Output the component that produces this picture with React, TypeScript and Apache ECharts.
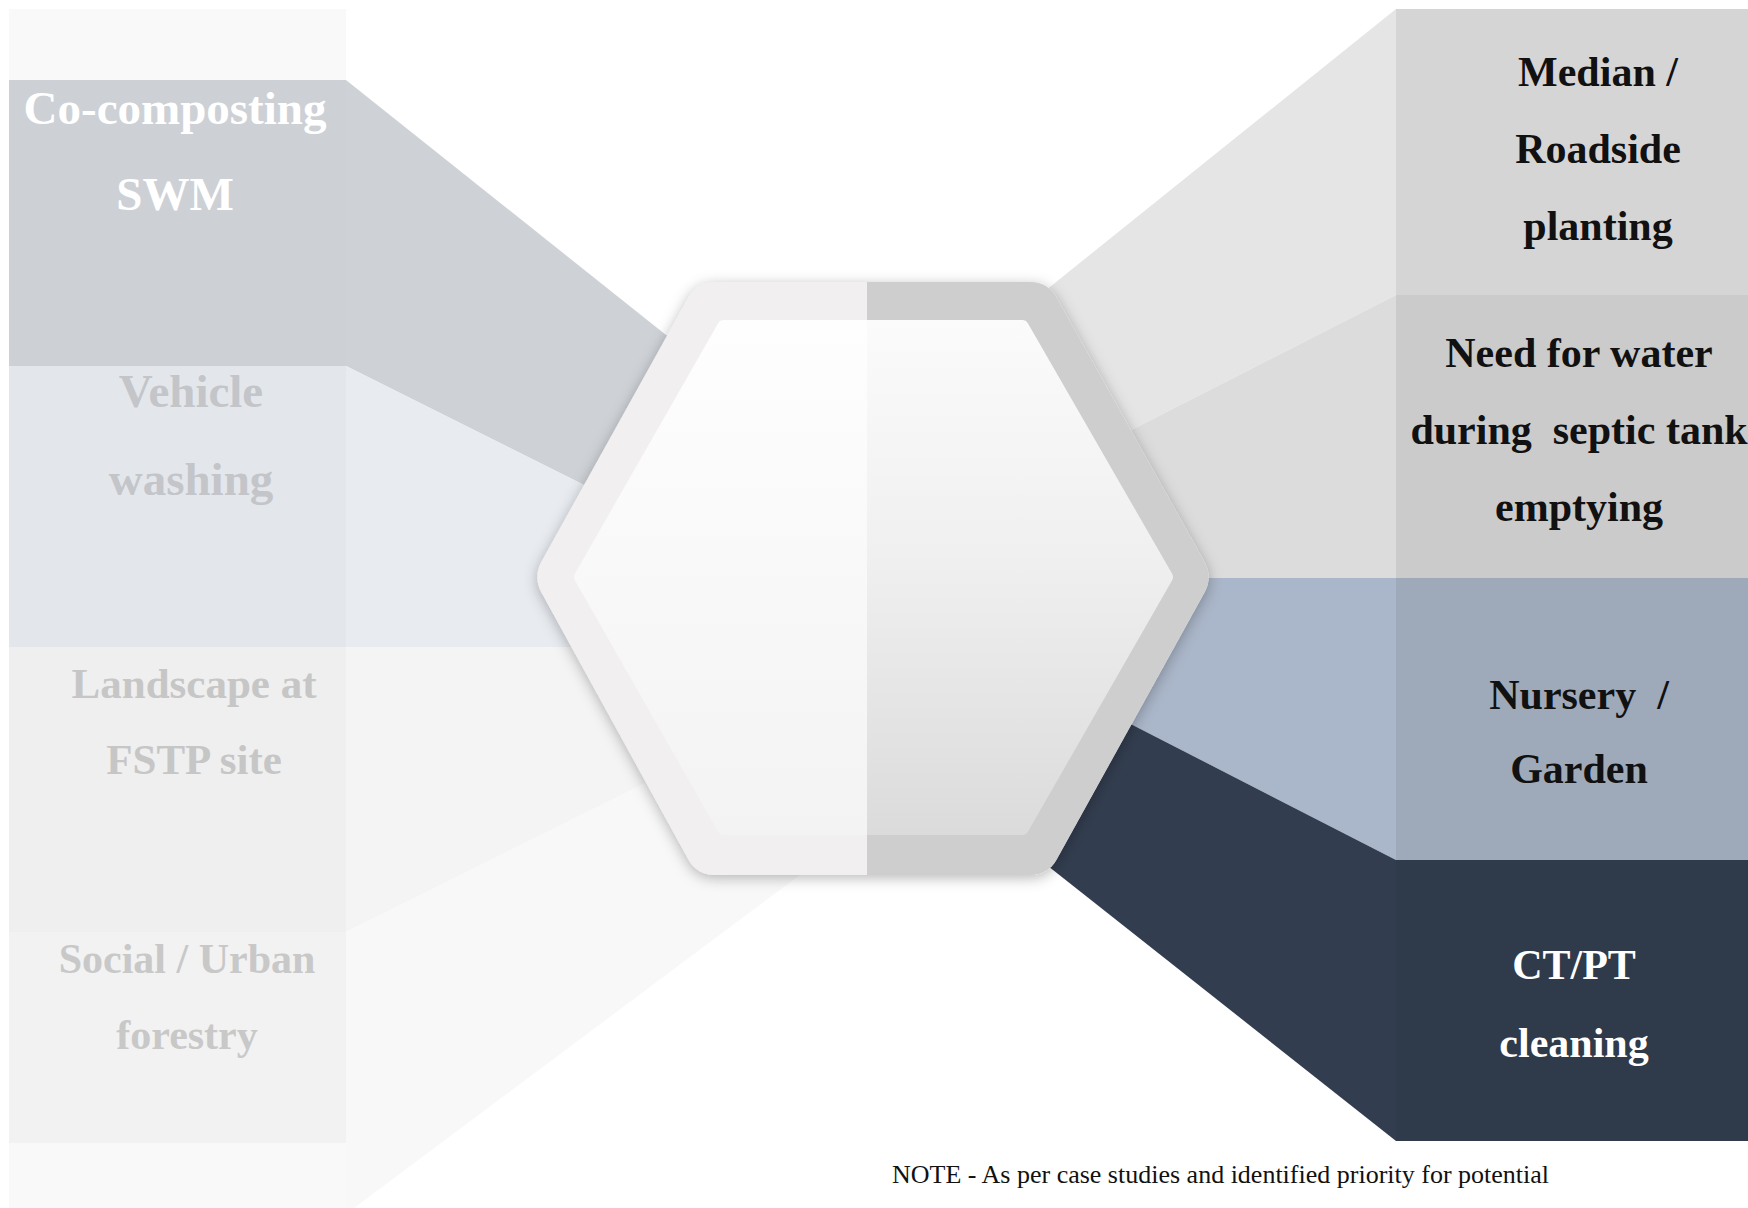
import React, { useEffect, useRef } from "react";
import * as echarts from "echarts";

// ---- content ----
const leftLabels = ["Co-composting\nSWM", "Vehicle\nwashing", "Landscape at\nFSTP site", "Social / Urban\nforestry"];
const rightLabels = ["Median /\nRoadside\nplanting", "Need for water\nduring  septic tank\nemptying", "Nursery  /\nGarden", "CT/PT\ncleaning"];
const noteText = "NOTE - As per case studies and identified priority for potential";

// ---- styles ----
const leftColColors = ["#cdd1d6", "#e3e7ec", "#efefef", "#f2f2f2"];
const leftWedgeColors = ["#ced2d7", "#e8ebf0", "#f4f4f4", "#f8f8f8"];
const leftTextColors = ["#ffffff", "#c3c5c9", "#c6c6c6", "#c8c8c8"];
const leftFontSizes = [47, 47, 43, 42];
const leftTextX = [175, 191, 194, 187];
const leftTextY = [151, 435, 721, 997];
const leftLineH = [86, 88, 76, 76];

const rightColColors = ["#d6d5d6", "#cbcbcb", "#9eaaba", "#2f3a4a"];
const rightWedgeColors = ["#e6e5e6", "#dcdcdc", "#aab6c9", "#323d4f"];
const rightTextColors = ["#111111", "#111111", "#111111", "#ffffff"];
const rightFontSizes = [42, 42, 42, 42];
const rightTextX = [1598, 1579, 1579, 1574];
const rightTextY = [149, 430, 732, 1004];
const rightLineH = [77, 77, 74, 78];

// ---- geometry ----
const W = 1748;
const H = 1208;
const LX0 = 9, LX1 = 346;
const RX0 = 1396, RX1 = 1748;
const leftBandY = [80, 366, 647, 932, 1143];
const rightBandY = [9, 295, 578, 860, 1141];

const leftWedges: number[][][] = [
  [[346, 80], [720, 378], [720, 553], [346, 366]],
  [[346, 366], [720, 553], [720, 647], [346, 647]],
  [[346, 647], [720, 647], [720, 746], [346, 932]],
  [[346, 932], [720, 746], [820, 746], [820, 860], [354, 1208], [346, 1208]],
];
const rightWedges: number[][][] = [
  [[1396, 9], [1396, 295], [1000, 497], [1000, 327]],
  [[1396, 295], [1396, 578], [1000, 578], [1000, 497]],
  [[1396, 578], [1396, 860], [1000, 657], [1000, 578]],
  [[1396, 860], [1396, 1141], [1000, 828], [1000, 657]],
];

const SPLIT = 867;
const outerHex = [[697, 282], [1048, 282], [1213, 577], [1048, 875], [697, 875], [533, 577]];
const outerLeft = [[SPLIT, 282], [697, 282], [533, 577], [697, 875], [SPLIT, 875]];
const outerRight = [[SPLIT, 282], [1048, 282], [1213, 577], [1048, 875], [SPLIT, 875]];
const innerLeft = [[SPLIT, 320], [720, 320], [573, 577], [720, 835], [SPLIT, 835]];
const innerRight = [[SPLIT, 320], [1026, 320], [1174, 577], [1026, 835], [SPLIT, 835]];

function rounded(pts: number[][], radii: number[], closed: boolean): number[][] {
  const out: number[][] = [];
  const n = pts.length;
  for (let i = 0; i < n; i++) {
    const v = pts[i];
    const r = radii[i];
    const hasPrev = closed || i > 0;
    const hasNext = closed || i < n - 1;
    if (!r || !hasPrev || !hasNext) {
      out.push(v);
      continue;
    }
    const p = pts[(i - 1 + n) % n];
    const q = pts[(i + 1) % n];
    const d1 = Math.hypot(p[0] - v[0], p[1] - v[1]);
    const d2 = Math.hypot(q[0] - v[0], q[1] - v[1]);
    const a = [v[0] + ((p[0] - v[0]) / d1) * r, v[1] + ((p[1] - v[1]) / d1) * r];
    const b = [v[0] + ((q[0] - v[0]) / d2) * r, v[1] + ((q[1] - v[1]) / d2) * r];
    const steps = 8;
    for (let s = 0; s <= steps; s++) {
      const t = s / steps;
      const x = (1 - t) * (1 - t) * a[0] + 2 * (1 - t) * t * v[0] + t * t * b[0];
      const y = (1 - t) * (1 - t) * a[1] + 2 * (1 - t) * t * v[1] + t * t * b[1];
      out.push([x, y]);
    }
  }
  return out;
}

function buildOption() {
  const els: any[] = [];
  els.push({ type: "rect", shape: { x: 0, y: 0, width: W, height: H }, style: { fill: "#ffffff" } });

  // left faint top & bottom
  els.push({ type: "rect", shape: { x: LX0, y: 9, width: LX1 - LX0, height: leftBandY[0] - 9 }, style: { fill: "#f9f9f9" } });
  els.push({ type: "rect", shape: { x: LX0, y: leftBandY[4], width: LX1 - LX0, height: H - leftBandY[4] }, style: { fill: "#f9f9f9" } });

  leftLabels.forEach((_, i) => {
    els.push({ type: "polygon", shape: { points: leftWedges[i] }, style: { fill: leftWedgeColors[i] } });
    els.push({
      type: "rect",
      shape: { x: LX0, y: leftBandY[i], width: LX1 - LX0, height: leftBandY[i + 1] - leftBandY[i] },
      style: { fill: leftColColors[i] },
    });
  });
  rightLabels.forEach((_, i) => {
    els.push({ type: "polygon", shape: { points: rightWedges[i] }, style: { fill: rightWedgeColors[i] } });
    els.push({
      type: "rect",
      shape: { x: RX0, y: rightBandY[i], width: RX1 - RX0, height: rightBandY[i + 1] - rightBandY[i] },
      style: { fill: rightColColors[i] },
    });
  });

  // hexagon
  els.push({
    type: "polygon",
    shape: { points: rounded(outerHex, [18, 18, 18, 18, 18, 18], true) },
    style: { fill: "#e8e8e8", shadowBlur: 14, shadowColor: "rgba(0,0,0,0.28)", shadowOffsetX: 0, shadowOffsetY: 3 },
  });
  els.push({ type: "polygon", shape: { points: rounded(outerLeft, [0, 18, 18, 18, 0], false) }, style: { fill: "#f1efef" } });
  els.push({ type: "polygon", shape: { points: rounded(outerRight, [0, 18, 18, 18, 0], false) }, style: { fill: "#cfcecf" } });
  els.push({
    type: "polygon",
    shape: { points: rounded(innerLeft, [0, 4, 4, 4, 0], false) },
    style: {
      fill: { type: "linear", x: 0, y: 0, x2: 0, y2: 1, colorStops: [{ offset: 0, color: "#fefefe" }, { offset: 1, color: "#f3f3f3" }] },
    },
  });
  els.push({
    type: "polygon",
    shape: { points: rounded(innerRight, [0, 4, 4, 4, 0], false) },
    style: {
      fill: {
        type: "linear", x: 0, y: 0, x2: 0, y2: 1,
        colorStops: [{ offset: 0, color: "#fbfbfb" }, { offset: 0.45, color: "#f0f0f0" }, { offset: 1, color: "#dbdbdb" }],
      },
    },
  });

  const textEl = (text: string, x: number, y: number, size: number, lh: number, fill: string) => ({
    type: "text",
    x,
    y,
    style: {
      text,
      fill,
      fontFamily: '"Liberation Serif", "Times New Roman", serif',
      fontWeight: "bold",
      fontSize: size,
      lineHeight: lh,
      align: "center",
      verticalAlign: "middle",
      textAlign: "center",
      textVerticalAlign: "middle",
    },
  });
  leftLabels.forEach((t, i) => els.push(textEl(t, leftTextX[i], leftTextY[i], leftFontSizes[i], leftLineH[i], leftTextColors[i])));
  rightLabels.forEach((t, i) => els.push(textEl(t, rightTextX[i], rightTextY[i], rightFontSizes[i], rightLineH[i], rightTextColors[i])));

  els.push({
    type: "text",
    x: 892,
    y: 1174,
    style: {
      text: noteText,
      fill: "#111111",
      fontFamily: '"Liberation Serif", "Times New Roman", serif',
      fontSize: 26,
      align: "left",
      verticalAlign: "middle",
      textAlign: "left",
      textVerticalAlign: "middle",
    },
  });

  return { animation: false, graphic: { elements: els } };
}

export default function App() {
  const ref = useRef<HTMLDivElement>(null);
  useEffect(() => {
    document.body.style.margin = "0";
    if (!ref.current) return;
    const chart = echarts.init(ref.current, null, { renderer: "svg" });
    chart.setOption(buildOption() as any);
    return () => chart.dispose();
  }, []);
  return <div ref={ref} style={{ width: W, height: H }} />;
}
